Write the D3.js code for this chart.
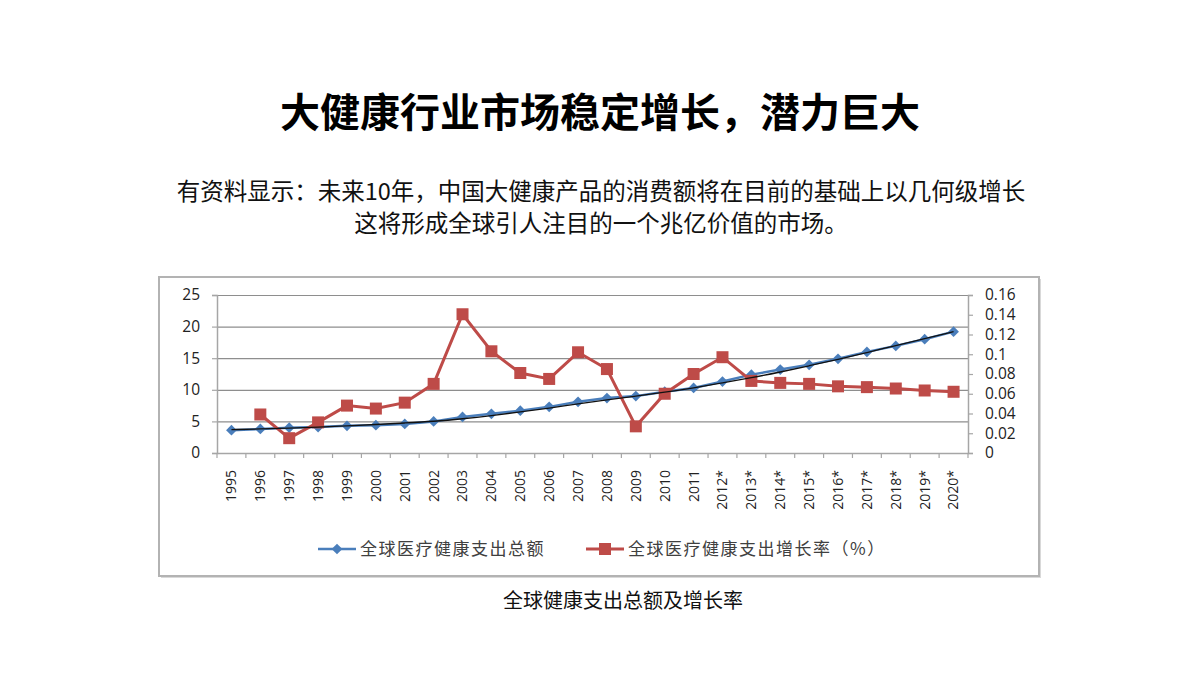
<!DOCTYPE html>
<html>
<head>
<meta charset="utf-8">
<script src="https://cdn.jsdelivr.net/npm/d3@7"></script>
<style>
  html, body { margin: 0; padding: 0; background: #fff; }
  svg { display: block; }
  .cjk { font-family: "Noto Sans CJK SC", "Noto Sans", sans-serif; }
  .num { font-family: "Open Sans", "Liberation Sans", sans-serif; }
</style>
</head>
<body>
<svg id="chart" width="1200" height="675"></svg>
<script>
// ---- data ----
const years = ['1995','1996','1997','1998','1999','2000','2001','2002','2003','2004','2005','2006','2007',
  '2008','2009','2010','2011','2012*','2013*','2014*','2015*','2016*','2017*','2018*','2019*','2020*'];
// 全球医疗健康支出总额 (左轴)
const totalSpend = [3.6, 3.8, 4.0, 4.1, 4.3, 4.4, 4.6, 5.0, 5.7, 6.2, 6.7, 7.3, 8.1,
  8.7, 9.0, 9.7, 10.3, 11.3, 12.4, 13.2, 13.95, 14.9, 16.0, 16.95, 18.0, 19.2];
// 趋势线 (黑色细线)
const trendSpend = [3.7, 3.8, 3.95, 4.1, 4.3, 4.5, 4.75, 5.0, 5.4, 5.9, 6.5, 7.1, 7.8,
  8.4, 9.0, 9.6, 10.3, 11.1, 11.9, 12.8, 13.8, 14.8, 15.9, 17.0, 18.1, 19.2];
// 全球医疗健康支出增长率 (右轴), 1995 无数据
const growthRate = [null, 0.039, 0.015, 0.031, 0.048, 0.045, 0.051, 0.070, 0.1405, 0.103, 0.081, 0.075, 0.102,
  0.085, 0.027, 0.060, 0.080, 0.097, 0.073, 0.071, 0.070, 0.0675, 0.0667, 0.0653, 0.0633, 0.062];
const leftTicks = [0, 5, 10, 15, 20, 25];
const rightTicks = [0, 0.02, 0.04, 0.06, 0.08, 0.1, 0.12, 0.14, 0.16];

const title = '大健康行业市场稳定增长，潜力巨大';
const subLines = ['有资料显示：未来10年，中国大健康产品的消费额将在目前的基础上以几何级增长',
  '这将形成全球引人注目的一个兆亿价值的市场。'];
const caption = '全球健康支出总额及增长率';
const legendNames = ['全球医疗健康支出总额', '全球医疗健康支出增长率（%）'];

// ---- layout ----
const box = { x: 159, y: 277, w: 880, h: 299 };
const P = { left: 217, right: 968, top: 295, bottom: 453 };
const C = { blue: '#4a7ebb', red: '#be4b48', grid: '#8e8e8e', axis: '#a6a6a6' };

const svg = d3.select('#chart');

// 标题
svg.append('text').attr('class', 'cjk')
  .attr('x', 600).attr('y', 127).attr('text-anchor', 'middle')
  .attr('font-size', 40).attr('font-weight', 700).attr('fill', '#000')
  .text(title);

svg.selectAll('text.sub').data(subLines).join('text')
  .attr('class', 'cjk sub')
  .attr('x', 601).attr('y', (d, i) => 200 + i * 32)
  .attr('text-anchor', 'middle').attr('font-size', 23.5).attr('fill', '#111')
  .text(d => d);

// 图表外框 (带阴影)
svg.append('rect')
  .attr('x', box.x + 2).attr('y', box.y + 2).attr('width', box.w).attr('height', box.h)
  .attr('fill', '#d9d9d9');
svg.append('rect')
  .attr('x', box.x).attr('y', box.y).attr('width', box.w).attr('height', box.h)
  .attr('fill', '#fff').attr('stroke', '#b3b3b3').attr('stroke-width', 2);

// ---- scales ----
const x = d3.scaleBand().domain(years).range([P.left, P.right]).padding(0);
const cx = (d) => x(d) + x.bandwidth() / 2;
const yL = d3.scaleLinear().domain([0, 25]).range([P.bottom, P.top]);
const yR = d3.scaleLinear().domain([0, 0.16]).range([P.bottom, P.top]);

// 水平网格
svg.append('g')
  .selectAll('line').data(leftTicks.filter(t => t > 0)).join('line')
  .attr('x1', P.left).attr('x2', P.right)
  .attr('y1', d => yL(d) + 0.5).attr('y2', d => yL(d) + 0.5)
  .attr('stroke', C.grid).attr('stroke-width', 1.2);

// 左轴
const gL = svg.append('g').attr('transform', `translate(${P.left},0)`)
  .call(d3.axisLeft(yL).tickValues(leftTicks).tickSize(5).tickPadding(12));
// 右轴
const gR = svg.append('g').attr('transform', `translate(${P.right},0)`)
  .call(d3.axisRight(yR).tickValues(rightTicks).tickSize(5).tickPadding(12)
    .tickFormat(d => d === 0 ? '0' : String(+d.toFixed(2))));
[gL, gR].forEach(g => {
  g.select('.domain').attr('stroke', C.axis).attr('stroke-width', 1.5);
  g.selectAll('.tick line').attr('stroke', C.axis).attr('stroke-width', 1.2);
  g.selectAll('.tick text').attr('class', 'num').attr('font-size', 15.5).attr('fill', '#222');
});

// X 轴
const gX = svg.append('g').attr('transform', `translate(0,${P.bottom})`)
  .call(d3.axisBottom(x).tickSize(0).tickPadding(0));
gX.select('.domain').attr('stroke', C.axis).attr('stroke-width', 1.5);
gX.selectAll('.tick text')
  .attr('class', 'num').attr('font-size', 14).attr('fill', '#222')
  .attr('text-anchor', 'end').attr('dy', '0.35em')
  .attr('transform', 'translate(0,17) rotate(-90)')
  .attr('x', 0).attr('y', 0);
// 分类边界刻度
svg.append('g')
  .selectAll('line').data(years.concat(['end'])).join('line')
  .attr('x1', (d, i) => i < years.length ? x(d) : P.right)
  .attr('x2', (d, i) => i < years.length ? x(d) : P.right)
  .attr('y1', P.bottom).attr('y2', P.bottom + 5)
  .attr('stroke', C.axis).attr('stroke-width', 1.2);

// ---- series ----
const lineL = d3.line().x((d, i) => cx(years[i])).y(d => yL(d));
const lineR = d3.line().defined(d => d != null).x((d, i) => cx(years[i])).y(d => yR(d));

svg.append('path').attr('d', lineL(totalSpend))
  .attr('fill', 'none').attr('stroke', C.blue).attr('stroke-width', 2.5);

// 菱形标记：旋转 45° 的正方形
const diamondSide = 7.6;
svg.append('g').selectAll('rect').data(totalSpend).join('rect')
  .attr('x', -diamondSide / 2).attr('y', -diamondSide / 2)
  .attr('width', diamondSide).attr('height', diamondSide)
  .attr('transform', (d, i) => `translate(${cx(years[i])},${yL(d)}) rotate(45)`)
  .attr('fill', C.blue);

svg.append('path').attr('d', lineR(growthRate))
  .attr('fill', 'none').attr('stroke', C.red).attr('stroke-width', 3);
svg.append('g').selectAll('rect')
  .data(growthRate.map((v, i) => ({ v, i })).filter(d => d.v != null)).join('rect')
  .attr('x', d => cx(years[d.i]) - 6).attr('y', d => yR(d.v) - 6)
  .attr('width', 12).attr('height', 12)
  .attr('fill', C.red);

// 趋势线
svg.append('path').attr('d', lineL.curve(d3.curveBasis)(trendSpend))
  .attr('fill', 'none').attr('stroke', '#111').attr('stroke-width', 1.3);

// ---- legend ----
const lg = svg.append('g').attr('transform', 'translate(0,549)');
const legendItems = [
  { name: legendNames[0], color: C.blue, x0: 318, shape: 'diamond' },
  { name: legendNames[1], color: C.red, x0: 586, shape: 'square' }
];
legendItems.forEach(it => {
  lg.append('line').attr('x1', it.x0).attr('x2', it.x0 + 38).attr('y1', 0).attr('y2', 0)
    .attr('stroke', it.color).attr('stroke-width', it.shape === 'diamond' ? 2.5 : 3);
  if (it.shape === 'diamond') {
    lg.append('rect').attr('x', -diamondSide / 2).attr('y', -diamondSide / 2)
      .attr('width', diamondSide).attr('height', diamondSide)
      .attr('transform', `translate(${it.x0 + 19},0) rotate(45)`).attr('fill', it.color);
  } else {
    lg.append('rect').attr('x', it.x0 + 13).attr('y', -6).attr('width', 12).attr('height', 12).attr('fill', it.color);
  }
  lg.append('text').attr('class', 'cjk')
    .attr('x', it.x0 + 42).attr('y', 0).attr('dy', '0.35em')
    .attr('font-size', 17).attr('letter-spacing', 1.5).attr('fill', '#404040')
    .text(it.name);
});

// 图注
svg.append('text').attr('class', 'cjk')
  .attr('x', 623).attr('y', 608).attr('text-anchor', 'middle')
  .attr('font-size', 20).attr('fill', '#111')
  .text(caption);
</script>
</body>
</html>
